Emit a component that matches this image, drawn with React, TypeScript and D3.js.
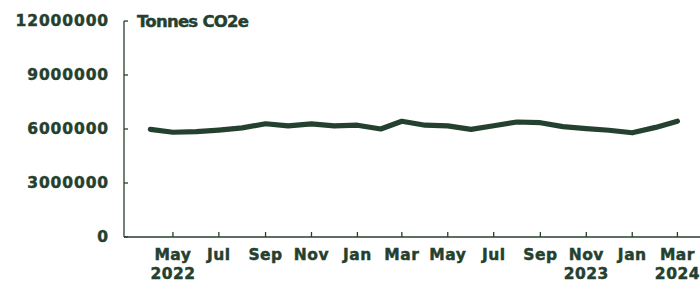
import React from 'react';
import * as d3 from 'd3';

// monthly emissions, Apr 2022 - Mar 2024
const months: string[] = [
  '2022-04', '2022-05', '2022-06', '2022-07', '2022-08', '2022-09', '2022-10', '2022-11', '2022-12',
  '2023-01', '2023-02', '2023-03', '2023-04', '2023-05', '2023-06', '2023-07', '2023-08', '2023-09',
  '2023-10', '2023-11', '2023-12', '2024-01', '2024-02', '2024-03',
];
const emissions: number[] = [
  5980000, 5820000, 5850000, 5940000, 6060000, 6290000, 6170000, 6280000, 6170000,
  6210000, 6000000, 6430000, 6210000, 6170000, 5980000, 6180000, 6390000, 6350000,
  6130000, 6020000, 5930000, 5790000, 6090000, 6430000,
];

const tickMonths: string[] = ['2022-05', '2022-07', '2022-09', '2022-11', '2023-01', '2023-03', '2023-05', '2023-07', '2023-09', '2023-11', '2024-01', '2024-03'];
const tickMonthLabels: string[] = ['May', 'Jul', 'Sep', 'Nov', 'Jan', 'Mar', 'May', 'Jul', 'Sep', 'Nov', 'Jan', 'Mar'];
const tickYearLabels: string[] = ['2022', '', '', '', '', '', '', '', '', '2023', '', '2024'];
const yTicks: number[] = [0, 3000000, 6000000, 9000000, 12000000];
const yTitle = 'Tonnes CO2e';

const W = 700;
const H = 282;
const color = '#24402e';
const font = '"DejaVu Sans", sans-serif';

const parse = d3.timeParse('%Y-%m');

const App: React.FC = () => {
  const x = d3.scaleTime()
    .domain([new Date(2022, 1, 25), new Date(2024, 2, 31)])
    .range([124, 700]);
  const y = d3.scaleLinear().domain([0, 12000000]).range([237, 21]);

  const data = months.map((m, i) => ({ date: parse(m) as Date, value: emissions[i] }));
  const line = d3.line<{ date: Date; value: number }>()
    .x(d => x(d.date))
    .y(d => y(d.value));

  // faux heavier weight for the labels
  const textStroke = { stroke: color, strokeWidth: 0.45 };

  return (
    <div style={{ position: 'absolute', left: 0, top: 0 }}>
      <svg width={W} height={H} style={{ display: 'block' }} fontFamily={font} fontWeight="bold" fill={color}>
        {/* y axis */}
        <line x1={x.range()[0]} x2={x.range()[0]} y1={y(12000000)} y2={y(0)} stroke={color} strokeWidth={1.3} />
        {yTicks.map(t => (
          <g key={t} transform={`translate(0,${y(t)})`}>
            <line x1={x.range()[0]} x2={x.range()[0] + 4} stroke={color} strokeWidth={1.3} />
            <text x={x.range()[0] - 15} dy="0.35em" textAnchor="end" fontSize={15.5} letterSpacing={0.9} {...textStroke}>
              {t}
            </text>
          </g>
        ))}
        <text x={137} y={y(12000000)} dy="0.36em" fontSize={16.5} letterSpacing={-0.75} {...textStroke}>{yTitle}</text>

        {/* x axis */}
        <line x1={x.range()[0]} x2={x.range()[1]} y1={y(0)} y2={y(0)} stroke={color} strokeWidth={1.3} />
        {tickMonths.map((m, i) => {
          const px = x(parse(m) as Date);
          return (
            <g key={m} transform={`translate(${px},0)`}>
              <line y1={y(0)} y2={y(0) - 5} stroke={color} strokeWidth={1.3} />
              <text y={260} textAnchor="middle" fontSize={15.5} letterSpacing={0.5} {...textStroke}>{tickMonthLabels[i]}</text>
              {tickYearLabels[i] && (
                <text y={279} textAnchor="middle" fontSize={15.5} letterSpacing={0.5} {...textStroke}>{tickYearLabels[i]}</text>
              )}
            </g>
          );
        })}

        <path d={line(data) ?? ''} fill="none" stroke={color} strokeWidth={5.2} strokeLinejoin="round" strokeLinecap="round" />
      </svg>
    </div>
  );
};

export default App;
